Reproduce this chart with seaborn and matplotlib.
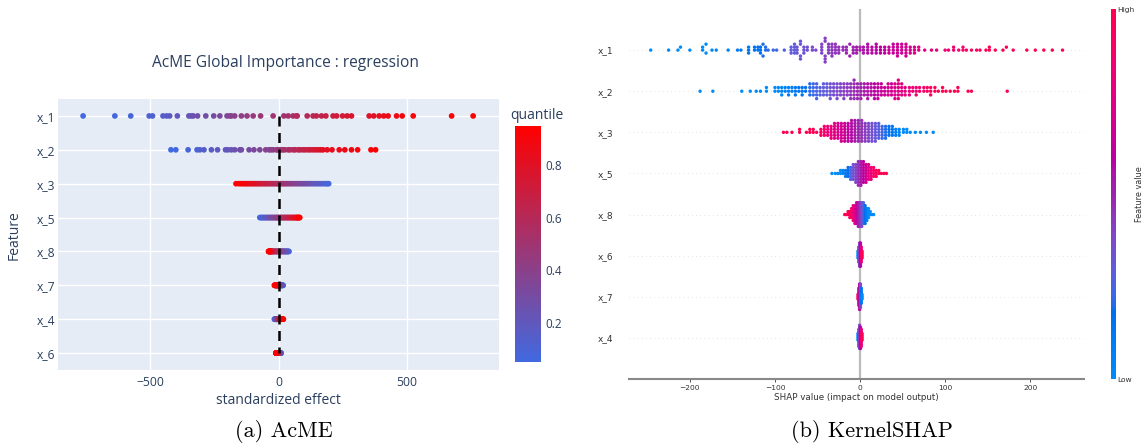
import numpy as np
import pandas as pd
import matplotlib
matplotlib.use("Agg")
import matplotlib.pyplot as plt
from matplotlib.colors import LinearSegmentedColormap, Normalize
from matplotlib.cm import ScalarMappable
import seaborn as sns

# ---------------- AcME global importance (left) ----------------
ACME_FEATURES = ["x_1", "x_2", "x_3", "x_5", "x_8", "x_7", "x_4", "x_6"]

QUANTILES = [0.05, 0.068, 0.087, 0.105, 0.123, 0.142, 0.16, 0.178, 0.197, 0.215,
             0.233, 0.252, 0.27, 0.288, 0.307, 0.325, 0.343, 0.362, 0.38, 0.398,
             0.417, 0.435, 0.453, 0.472, 0.49, 0.508, 0.527, 0.545, 0.563, 0.582,
             0.6, 0.618, 0.637, 0.655, 0.673, 0.692, 0.71, 0.728, 0.747, 0.765,
             0.783, 0.802, 0.82, 0.838, 0.857, 0.875, 0.893, 0.912, 0.93, 0.95]

ACME_X1 = [-763, -639, -577, -505, -492, -451, -437, -425, -395, -350,
           -340, -333, -316, -284, -253, -229, -201, -190, -184, -171,
           -145, -123, -99, -70, -21, 21, 38, 57, 70, 73,
           112, 135, 148, 168, 185, 213, 227, 250, 268, 285,
           354, 372, 393, 411, 428, 461, 483, 526, 676, 760]
ACME_X2 = [-420, -401, -353, -318, -307, -291, -262, -238, -207, -197,
           -184, -171, -151, -145, -115, -96, -73, -50, -37, -30,
           -21, -8, -4, 5, 10, 18, 25, 38, 45, 57,
           65, 77, 85, 96, 105, 116, 125, 135, 145, 155,
           165, 174, 190, 209, 237, 259, 285, 309, 361, 379]
ACME_X3 = [196, 190, 184, 176, 168, 160, 152, 144, 136, 128,
           120, 112, 104, 96, 88, 80, 72, 64, 56, 48,
           40, 33, 26, 19, 12, 6, 0, -6, -12, -19,
           -26, -33, -40, -47, -54, -61, -68, -75, -82, -89,
           -96, -103, -110, -117, -124, -131, -138, -146, -155, -166]
ACME_X5 = [-73, -69, -66, -62, -58, -55, -51, -47, -44, -40,
           -37, -33, -30, -26, -23, -19, -16, -12, -9, -6,
           -3, 0, 3, 7, 10, 13, 16, 20, 23, 26,
           30, 33, 36, 40, 43, 46, 50, 53, 56, 59,
           62, 65, 68, 71, 73, 75, 77, 79, 81, 83]
ACME_X8 = [41, 39, 37, 35, 33, 31, 29, 27, 25, 23,
           21, 19, 17, 15, 13, 11, 9, 7, 5, 3,
           1, -1, -3, -5, -7, -9, -11, -13, -15, -17,
           -19, -21, -23, -24, -26, -27, -28, -29, -30, -31,
           -32, -33, -34, -35, -35.5, -36, -37, -37.5, -38, -39]
ACME_X7 = [18, 17, 16, 15, 14, 13, 12, 11, 10, 9,
           8, 7, 6.5, 6, 5, 4.5, 4, 3, 2.5, 2,
           1, 0.5, 0, -0.5, -1, -1.5, -2, -2.5, -3, -3.5,
           -4, -4.5, -5, -5.5, -6, -6.5, -7, -7.5, -8, -8.5,
           -9, -9.5, -10, -11, -12, -12.5, -13, -14, -15, -16]
ACME_X4 = [-16, -15, -14, -13, -12, -11, -10, -9, -8.5, -8,
           -7.5, -7, -6.5, -6, -5.5, -5, -4.5, -4, -3.5, -3,
           -2.5, -2, -1.5, -1, -0.5, 0, 0.5, 1, 1.5, 2,
           2.5, 3, 3.5, 4, 4.5, 5, 5.5, 6, 7, 8,
           9, 10, 11, 12, 13, 14, 15, 16, 17.5, 19]
ACME_X6 = [10, 9.5, 9, 8.5, 8, 7.5, 7, 6.5, 6, 5.5,
           5, 4.5, 4, 3.6, 3.2, 2.8, 2.4, 2, 1.6, 1.2,
           0.8, 0.4, 0, -0.4, -0.8, -1.2, -1.6, -2, -2.4, -2.8,
           -3.2, -3.6, -4, -4.4, -4.8, -5.2, -5.6, -6, -6.4, -6.8,
           -7.2, -7.6, -8, -8.4, -8.8, -9, -9.2, -9.4, -9.6, -10]
ACME_XTICKS = [-500, 0, 500]
CBAR_TICKS = [0.2, 0.4, 0.6, 0.8]

# ---------------- KernelSHAP beeswarm (right) ----------------
SHAP_FEATURES = ["x_1", "x_2", "x_3", "x_5", "x_8", "x_6", "x_7", "x_4"]
# +1: high feature value pushes the output up, -1: pushes it down
SHAP_SIGN = [1, 1, -1, 1, -1, 1, -1, 1]

# SHAP values grouped into stacks: value and number of samples stacked there
SHAP_X1_POS = [-246, -225, -214, -211, -200, -185, -181, -174, -169, -155,
               -144, -140, -131, -124, -120, -117, -114, -111, -108, -102,
               -98, -89, -81, -77, -74, -70, -66, -62, -56, -52,
               -45, -41, -37, -33, -29, -25, -20, -16, -12, -8,
               -4, 0, 4, 9, 14, 19, 24, 29, 34, 39,
               44, 49, 54, 59, 64, 69, 76, 84, 90, 100,
               104, 110, 116, 121, 125, 131, 137, 141, 148, 152,
               159, 168, 172, 180, 196, 206, 216, 226, 238]
SHAP_X1_CNT = [1, 1, 1, 1, 1, 2, 2, 1, 1, 1,
               1, 1, 3, 2, 2, 3, 2, 2, 1, 1,
               1, 1, 3, 4, 3, 4, 3, 2, 2, 1,
               4, 5, 4, 5, 4, 3, 2, 3, 2, 3,
               3, 2, 3, 4, 3, 4, 3, 3, 3, 4,
               5, 4, 5, 3, 3, 2, 1, 1, 1, 1,
               1, 2, 1, 2, 1, 1, 1, 1, 1, 2,
               1, 1, 1, 1, 1, 1, 1, 1, 1]
SHAP_X2_POS = [-188, -173, -139, -129, -122, -117, -110, -100, -96, -92,
               -88, -84, -80, -76, -72, -68, -64, -59, -55, -51,
               -47, -43, -39, -35, -31, -27, -23, -19, -15, -11,
               -7, -3, 1, 5, 9, 13, 17, 21, 25, 29,
               33, 37, 41, 45, 49, 53, 58, 62, 66, 70,
               75, 79, 83, 88, 92, 97, 101, 106, 111, 115,
               127, 131, 173]
SHAP_X2_CNT = [1, 1, 1, 1, 1, 1, 2, 2, 2, 3,
               2, 3, 2, 3, 2, 3, 2, 4, 4, 5,
               3, 4, 4, 5, 4, 5, 4, 5, 4, 5,
               6, 5, 5, 4, 5, 4, 5, 5, 4, 3,
               4, 4, 5, 6, 4, 3, 3, 2, 3, 2,
               2, 2, 3, 2, 1, 2, 1, 1, 1, 2,
               1, 1, 1]
SHAP_X3_POS = [-90, -86, -80, -71, -63, -59, -55, -51, -46, -42,
               -38, -34, -30, -26, -22, -18, -14, -10, -6, -2,
               2, 6, 10, 14, 18, 22, 26, 30, 34, 38,
               42, 46, 51, 55, 59, 65, 71, 78, 86]
SHAP_X3_CNT = [1, 1, 1, 2, 1, 2, 2, 1, 3, 4,
               4, 5, 6, 6, 7, 7, 7, 8, 8, 8,
               8, 7, 7, 7, 7, 6, 5, 5, 4, 4,
               3, 3, 2, 2, 1, 1, 1, 1, 1]
SHAP_X5_POS = [-33, -29, -26, -23, -20, -17, -14, -11, -8, -5, -2,
               1, 4, 7, 10, 13, 16, 19, 22, 25, 28, 31]
SHAP_X5_CNT = [1, 1, 1, 2, 2, 3, 4, 5, 6, 7, 9,
               9, 8, 7, 6, 5, 4, 3, 2, 1, 1, 1]
SHAP_X8_POS = [-18, -16, -14, -12, -10, -8, -6, -4, -2, 0,
               2, 4, 6, 8, 10, 12, 14, 16]
SHAP_X8_CNT = [1, 1, 2, 3, 4, 6, 7, 8, 9, 9,
               9, 8, 7, 5, 4, 2, 1, 1]
SHAP_X6_POS = [-2.5, -1.5, -0.5, 0.5, 1.5, 2.5]
SHAP_X6_CNT = [4, 8, 12, 12, 8, 4]
SHAP_X7_POS = [-2.5, -1.5, -0.5, 0.5, 1.5, 2.5]
SHAP_X7_CNT = [3, 9, 13, 12, 8, 3]
SHAP_X4_POS = [-2.5, -1.5, -0.5, 0.5, 1.5, 2.5]
SHAP_X4_CNT = [4, 9, 12, 11, 9, 4]
SHAP_XTICKS = [-200, -100, 0, 100, 200]

# ---------------- helpers ----------------
def lch_to_rgb(l, c, h):
    a, b = c * np.cos(h), c * np.sin(h)
    fy = (l + 16.0) / 116.0
    fx = fy + a / 500.0
    fz = fy - b / 200.0

    def finv(t):
        return t ** 3 if t ** 3 > 0.008856 else (t - 16.0 / 116.0) / 7.787

    xyz = np.array([0.95047 * finv(fx), finv(fy), 1.08883 * finv(fz)])
    m = np.array([[3.2406, -1.5372, -0.4986],
                  [-0.9689, 1.8758, 0.0415],
                  [0.0557, -0.2040, 1.0570]])
    rgb = m @ xyz
    rgb = np.where(rgb > 0.0031308,
                   1.055 * np.power(np.clip(rgb, 0, None), 1 / 2.4) - 0.055,
                   12.92 * rgb)
    return np.clip(rgb, 0, 1)


def shap_red_blue():
    blue_lch = (54.0, 70.0, 4.6588)
    red_lch = (54.0, 90.0, 0.35470565 + 2 * np.pi)
    l_mid, n = 40.0, 100
    ls = list(np.linspace(blue_lch[0], l_mid, n // 2)) + list(np.linspace(l_mid, red_lch[0], n // 2))
    cs = np.linspace(blue_lch[1], red_lch[1], n)
    hs = np.linspace(blue_lch[2], red_lch[2], n)
    cols = [lch_to_rgb(l, c, h) for l, c, h in zip(ls, cs, hs)]
    return LinearSegmentedColormap.from_list("red_blue", cols)


def beeswarm_offsets(vals, nbins=100, row_height=0.4):
    """Vertical offsets that stack samples falling into the same value bin."""
    vals = np.asarray(vals, float)
    span = vals.max() - vals.min()
    quant = np.round(nbins * (vals - vals.min()) / (span + 1e-8))
    order = np.argsort(quant, kind="stable")
    ys = np.zeros(len(vals))
    layer, last = 0, None
    for i in order:
        if quant[i] != last:
            layer = 0
        ys[i] = np.ceil(layer / 2) * ((layer % 2) * 2 - 1)
        layer += 1
        last = quant[i]
    ys *= 0.9 * (row_height / np.max(ys + 1))
    return ys


# ---------------- figure ----------------
W, H = 1145, 448
fig = plt.figure(figsize=(W / 100, H / 100), dpi=100)
fig.patch.set_facecolor("white")

def px_rect(x0, y0, x1, y1):
    return [x0 / W, 1 - y1 / H, (x1 - x0) / W, (y1 - y0) / H]

PLOTLY_TXT = "#2a3f5f"
OPEN = "Open Sans"

# ---- left panel ----
acme_cmap = LinearSegmentedColormap.from_list("acme", ["#4169E1", "#FF0000"])
acme_df = pd.DataFrame({
    "feature": np.repeat(ACME_FEATURES, len(QUANTILES)),
    "effect": np.concatenate([ACME_X1, ACME_X2, ACME_X3, ACME_X5,
                              ACME_X8, ACME_X7, ACME_X4, ACME_X6]).astype(float),
    "quantile": np.tile(QUANTILES, len(ACME_FEATURES)),
})
qnorm = (min(QUANTILES), max(QUANTILES))

axl = fig.add_axes(px_rect(58, 99, 499, 370))
axl.set_facecolor("#E5ECF6")
sns.scatterplot(data=acme_df, x="effect", y="feature", hue="quantile",
                palette=acme_cmap, hue_norm=qnorm, s=17, linewidth=0,
                legend=False, ax=axl, zorder=3)
axl.plot([0, 0], [0, len(ACME_FEATURES) - 1], color="black", lw=1.8,
         linestyle=(0, (4, 2.6)), zorder=4)
axl.set_xlim(-861, 861)
axl.set_ylim(len(ACME_FEATURES) - 0.5, -0.5)
axl.set_xticks(ACME_XTICKS)
axl.set_xticklabels([f"{t:d}".replace("-", "\u2212") for t in ACME_XTICKS])
axl.grid(True, color="white", lw=1.0, zorder=0)
axl.set_axisbelow(True)
for s in axl.spines.values():
    s.set_visible(False)
axl.tick_params(length=0, labelsize=8.7, labelcolor=PLOTLY_TXT, pad=4)
axl.tick_params(axis="y", pad=2)
for lab in axl.get_xticklabels() + axl.get_yticklabels():
    lab.set_fontfamily(OPEN)
axl.set_xlabel("")
axl.set_ylabel("")
fig.text(278.5 / W, 1 - 400 / H, "standardized effect", ha="center", va="center",
         fontsize=10, color=PLOTLY_TXT, fontfamily=OPEN)
fig.text(14 / W, 1 - 235 / H, "Feature", ha="center", va="center", rotation=90,
         fontsize=10, color=PLOTLY_TXT, fontfamily=OPEN)
fig.text(286 / W, 1 - 63 / H, "AcME Global Importance : regression", ha="center",
         va="center", fontsize=11.2, color=PLOTLY_TXT, fontfamily=OPEN)

caxl = fig.add_axes(px_rect(515, 126, 541, 362))
cbl = fig.colorbar(ScalarMappable(norm=Normalize(*qnorm), cmap=acme_cmap), cax=caxl)
cbl.outline.set_visible(False)
cbl.set_ticks(CBAR_TICKS)
cbl.ax.tick_params(length=0, labelsize=8.5, labelcolor=PLOTLY_TXT, pad=3)
for lab in cbl.ax.get_yticklabels():
    lab.set_fontfamily(OPEN)
fig.text(537 / W, 1 - 115 / H, "quantile", ha="center", va="center",
         fontsize=10, color=PLOTLY_TXT, fontfamily=OPEN)

# ---- right panel ----
shap_cmap = shap_red_blue()
rows = [(SHAP_X1_POS, SHAP_X1_CNT), (SHAP_X2_POS, SHAP_X2_CNT),
        (SHAP_X3_POS, SHAP_X3_CNT), (SHAP_X5_POS, SHAP_X5_CNT),
        (SHAP_X8_POS, SHAP_X8_CNT), (SHAP_X6_POS, SHAP_X6_CNT),
        (SHAP_X7_POS, SHAP_X7_CNT), (SHAP_X4_POS, SHAP_X4_CNT)]
n_feat = len(SHAP_FEATURES)
frames = []
for i, ((pos, cnt), sign) in enumerate(zip(rows, SHAP_SIGN)):
    vals = np.repeat(np.asarray(pos, float), cnt)
    fv = sign * vals
    lo, hi = np.percentile(fv, [5, 95])
    frames.append(pd.DataFrame({
        "shap": vals,
        "ypos": (n_feat - 1 - i) + beeswarm_offsets(vals),
        "fval": np.clip((fv - lo) / (hi - lo), 0, 1),
    }))
shap_df = pd.concat(frames, ignore_index=True)

axr = fig.add_axes(px_rect(628.6, 9, 1083.8, 379))
for r in range(n_feat):
    axr.axhline(r, color="#cccccc", lw=0.5, dashes=(1, 5), zorder=-1)
axr.axvline(0, color="#bbbbbb", lw=1.6, zorder=-1)
sns.scatterplot(data=shap_df, x="shap", y="ypos", hue="fval", palette=shap_cmap,
                hue_norm=(0, 1), s=6, linewidth=0, legend=False, ax=axr, zorder=3)
axr.set_xlim(-272, 263)
axr.set_ylim(-1, n_feat)
axr.set_yticks(range(n_feat))
axr.set_yticklabels(SHAP_FEATURES[::-1])
axr.set_xticks(SHAP_XTICKS)
for side in ("top", "right", "left"):
    axr.spines[side].set_visible(False)
axr.spines["bottom"].set_color("#888888")
axr.spines["bottom"].set_linewidth(1.5)
axr.tick_params(axis="y", length=0, pad=11, labelsize=6.5, labelcolor="#333333")
axr.tick_params(axis="x", length=2.5, width=0.6, color="#333333", labelsize=5.4,
                labelcolor="#333333", pad=2)
axr.set_ylabel("")
axr.set_xlabel("SHAP value (impact on model output)", fontsize=6.3, color="#333333",
               labelpad=1.5)

caxr = fig.add_axes(px_rect(1111, 9, 1116, 379))
cbr = fig.colorbar(ScalarMappable(norm=Normalize(0, 1), cmap=shap_cmap), cax=caxr)
cbr.outline.set_visible(False)
cbr.set_ticks([0, 1])
cbr.set_ticklabels(["Low", "High"])
cbr.ax.tick_params(length=0, labelsize=5.4, labelcolor="#333333", pad=1)
cbr.set_label("Feature value", fontsize=5.9, color="#333333", labelpad=0)

# ---- captions ----
fig.text(284 / W, 1 - 431 / H, "(a) AcME", ha="center", va="center",
         fontsize=16, fontfamily="cmr10")
fig.text(872 / W, 1 - 431 / H, "(b) KernelSHAP", ha="center", va="center",
         fontsize=16, fontfamily="cmr10")

fig.savefig("out.png", dpi=100)
